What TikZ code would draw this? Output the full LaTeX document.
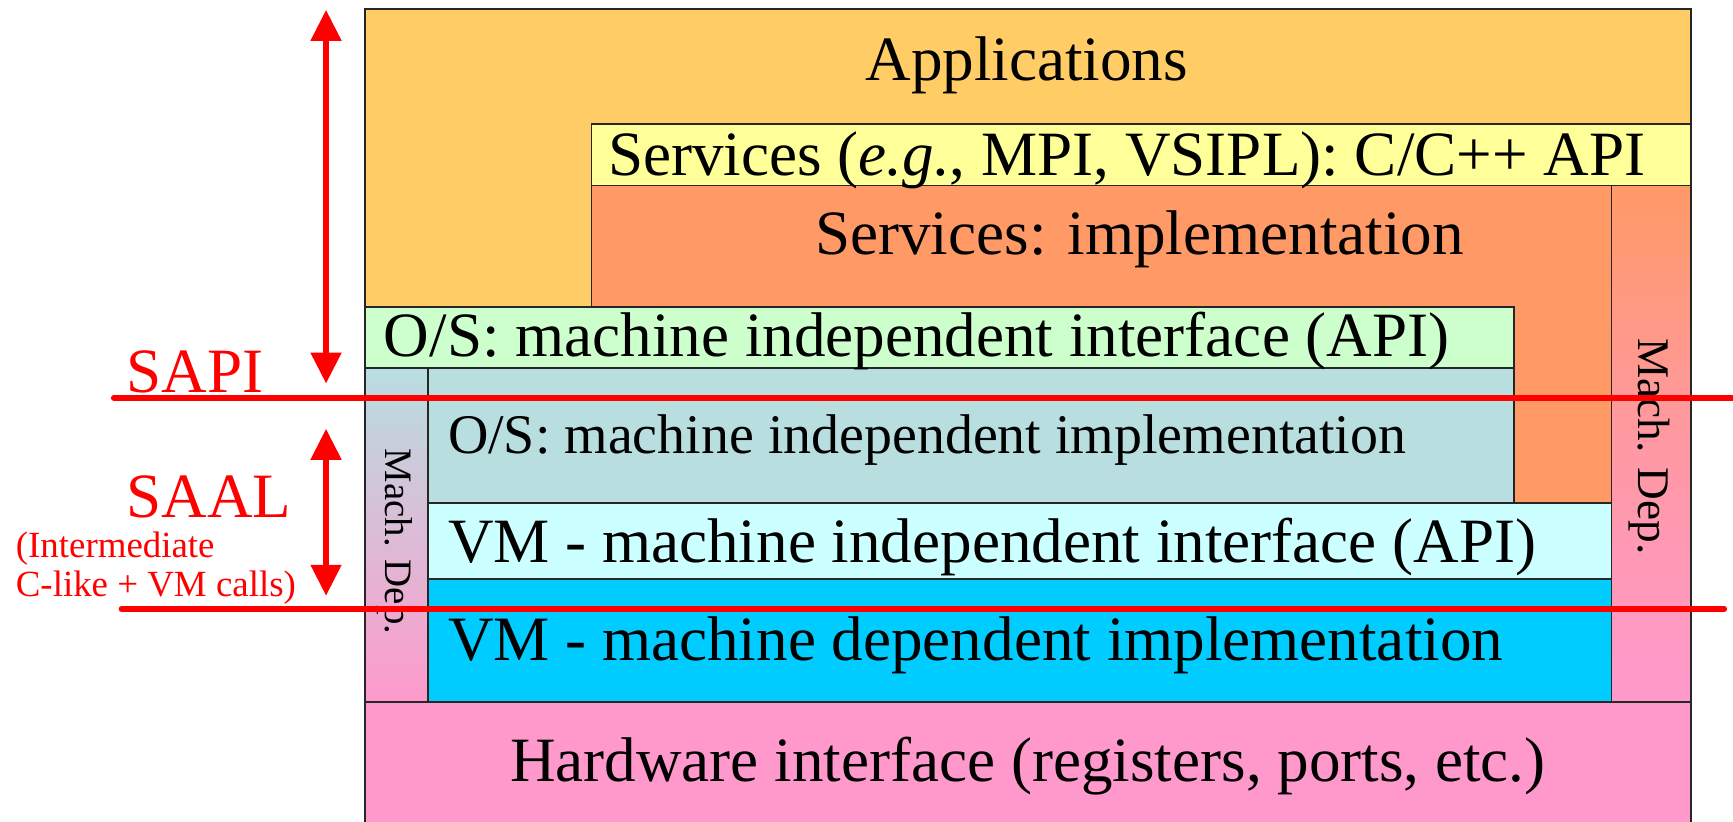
\documentclass[tikz,border=0pt]{standalone}
\usepackage{fontspec}
\setmainfont{Liberation Serif}
\usetikzlibrary{arrows.meta}
\definecolor{appc}{HTML}{FFCC66}
\definecolor{svapi}{HTML}{FFFF99}
\definecolor{svimp}{HTML}{FF9966}
\definecolor{osapi}{HTML}{CCFFCC}
\definecolor{osimp}{HTML}{B8DEE0}
\definecolor{vmapi}{HTML}{CCFFFF}
\definecolor{vmimp}{HTML}{00CCFF}
\definecolor{hwc}{HTML}{FF99CC}
\begin{document}
\begin{tikzpicture}[x=0.02cm,y=-0.02cm,
  layer/.style={draw=black!85, line width=0.8pt},
  big/.style={font=\fontsize{32.5}{38}\selectfont, inner sep=0pt},
  mid/.style={font=\fontsize{28.8}{34}\selectfont, inner sep=0pt},
  md/.style={inner sep=0pt, rotate=-90},
  note/.style={font=\fontsize{19}{22}\selectfont, text=red, inner sep=0pt},
  redline/.style={draw=red, line width=3pt, line cap=round},
  redarrow/.style={draw=red, line width=2.8pt, {Triangle[width=0.54cm,length=0.56cm]}-{Triangle[width=0.54cm,length=0.56cm]}}]
\useasboundingbox (0,0) rectangle (1568,743);
% layers
\draw[layer, fill=appc] (330,8) rectangle (1530,278);
\draw[layer, fill=svapi] (535,112) rectangle (1530,168);
\draw[layer, fill=svimp] (535,168) rectangle (1458,455);
\shade[top color=svimp, bottom color=hwc, middle color=hwc!60!svimp] (1458,168) rectangle (1530,635);
\draw[layer] (1458,168) rectangle (1530,635);
\draw[layer, fill=osapi] (330,278) rectangle (1370,333);
\shade[top color=osimp, bottom color=hwc] (330,333) rectangle (387,635);
\draw[layer] (330,333) rectangle (387,635);
\draw[layer, fill=osimp] (387,333) rectangle (1370,455);
\draw[layer, fill=vmapi] (387,455) rectangle (1458,524);
\draw[layer, fill=vmimp] (387,524) rectangle (1458,635);
\draw[layer, fill=hwc] (330,635) rectangle (1530,760);
% texts
\node[big, anchor=base] (app) at (929,73) {Applications};
\node[big, anchor=base west] (sapi) at (550,159) {Services (\textit{e.g.}, MPI, VSIPL): C/C++ API};
\node[big, anchor=base] (simp) at (1031,230) {Services: implementation};
\node[big, anchor=base west] (osa) at (347,323) {O/S: machine independent interface (API)};
\node[mid, anchor=base west] (osi) at (405,410) {O/S: machine independent implementation};
\node[big, anchor=base west] (vma) at (405,509) {VM - machine independent interface (API)};
\node[big, anchor=base west] (vmi) at (405,598) {VM - machine dependent implementation};
\node[big, anchor=base] (hw) at (930,707) {Hardware interface (registers, ports, etc.)};
\node[md, font=\fontsize{20}{24}\selectfont] (mdl) at (357,490) {Mach. Dep.};
\node[md, font=\fontsize{23.3}{28}\selectfont] (mdr) at (1492,404) {Mach. Dep.};
% red annotations
\coordinate (sapiL) at (103,360);
\coordinate (sapiR) at (1575,360);
\coordinate (saalL) at (110,551);
\coordinate (saalR) at (1560,551);
\draw[redline] (sapiL) -- (sapiR);
\draw[redline] (saalL) -- (saalR);
\coordinate (a1t) at (295,9);
\coordinate (a1b) at (295,347);
\coordinate (a2t) at (295,388);
\coordinate (a2b) at (295,539);
\draw[redarrow] (a1t) -- (a1b);
\draw[redarrow] (a2t) -- (a2b);
\node[big, text=red, anchor=base west] (sapilab) at (114,355) {SAPI};
\node[big, text=red, anchor=base west] (saallab) at (114,468) {SAAL};
\node[note, anchor=base west] (n1) at (14,504) {(Intermediate};
\node[note, anchor=base west] (n2) at (14,540) {C-like + VM calls)};
\end{tikzpicture}
\end{document}
